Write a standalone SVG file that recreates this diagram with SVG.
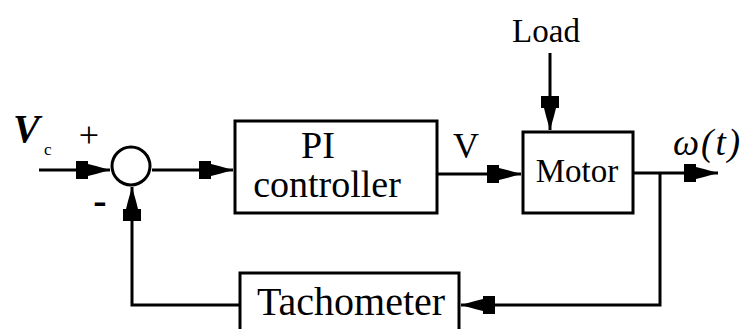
<svg xmlns="http://www.w3.org/2000/svg" width="743" height="329" viewBox="0 0 743 329">
<style>
.box{fill:#fff;stroke:#000;stroke-width:3}
.ln{fill:none;stroke:#000;stroke-width:3;marker-end:url(#ah)}
.t{font-family:"Liberation Serif","Times New Roman",serif;fill:#000}
</style>
<defs>
<marker id="ah" markerUnits="userSpaceOnUse" markerWidth="40" markerHeight="24" viewBox="-36 -12 40 24" refX="0" refY="0" orient="auto">
<path d="M0,0 L-14,-4 L-22,-6 L-22,-9 L-34,-9 L-34,9 L-22,9 L-22,6 L-14,4 Z" fill="#000"/>
</marker>
</defs>
<rect width="743" height="329" fill="#fff"/>
<g id="connectors">
<path class="ln" d="M39,170 L110,170"/>
<path class="ln" d="M152,170 L233,170"/>
<path class="ln" d="M437,174 L521,174"/>
<path class="ln" d="M550,53 L550,130"/>
<path class="ln" d="M633,173 L718,173"/>
<path class="ln" d="M660,173 L660,305 L461,305"/>
<path class="ln" d="M240,305 L132,305 L132,187"/>
</g>
<g id="sum">
<circle cx="131" cy="166" r="19" fill="#fff" stroke="#000" stroke-width="3"/>
<text class="t" x="89" y="147" font-size="36" text-anchor="middle">+</text>
<text class="t" x="100" y="214" font-size="40" font-weight="bold" text-anchor="middle">-</text>
</g>
<g id="input">
<text class="t" x="13" y="142" font-size="40" font-style="italic" font-weight="bold">V</text>
<text class="t" x="44" y="155" font-size="17">c</text>
</g>
<g id="pi">
<rect class="box" x="235" y="121" width="202" height="92"/>
<text class="t" x="318" y="158" font-size="38" text-anchor="middle">PI</text>
<text class="t" x="327" y="197" font-size="38" text-anchor="middle">controller</text>
</g>
<text class="t" x="453" y="158" font-size="36">V</text>
<g id="load">
<text class="t" x="546" y="42" font-size="33" text-anchor="middle">Load</text>
</g>
<g id="motor">
<rect class="box" x="523" y="132" width="110" height="81"/>
<text class="t" x="577" y="182" font-size="33" text-anchor="middle">Motor</text>
</g>
<g id="output">
<text class="t" x="673" y="155" font-size="37" font-style="italic" letter-spacing="2">ω(t)</text>
</g>
<g id="tachometer">
<rect class="box" x="240" y="273" width="219" height="70"/>
<text class="t" x="351" y="315" font-size="40" text-anchor="middle">Tachometer</text>
</g>
</svg>
